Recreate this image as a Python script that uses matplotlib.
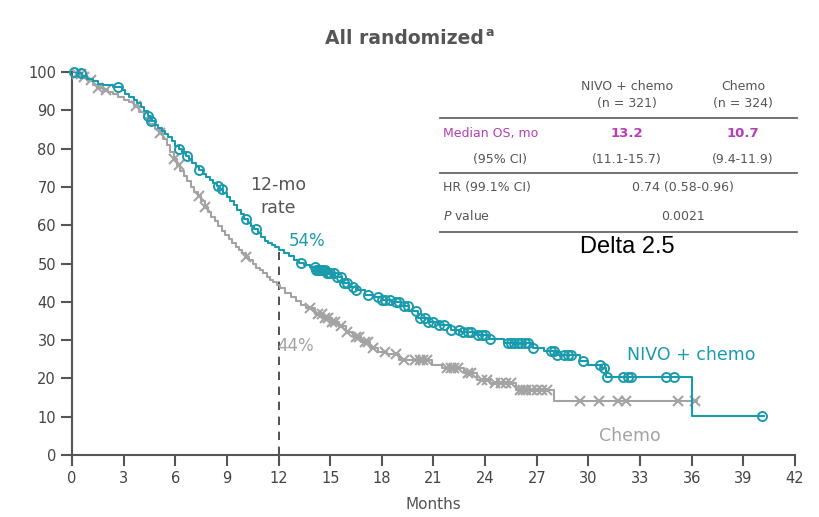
import numpy as np
import matplotlib.pyplot as plt

# Kaplan-Meier steps (months, OS %)
nivo_t = [0, 0.3, 0.6, 0.9, 1.2, 1.5, 1.8, 2.1, 2.4, 2.9, 3.1, 3.3, 3.6, 3.8, 4.0, 4.2, 4.4,
          4.6, 4.8, 5.0, 5.2, 5.4, 5.6, 5.8, 6.0, 6.2, 6.4, 6.6, 6.8, 7.0, 7.2, 7.4, 7.6, 7.8,
          8.0, 8.2, 8.4, 8.6, 8.8, 9.0, 9.2, 9.4, 9.6, 9.8, 10.0, 10.2, 10.4, 10.6, 10.8, 11.0,
          11.2, 11.4, 11.6, 11.8, 12.0, 12.3, 12.6, 12.9, 13.2, 13.5, 13.8, 14.2, 14.8, 15.3,
          15.7, 16.1, 16.5, 17.0, 17.5, 18.0, 18.6, 19.1, 19.6, 20.1, 20.7, 21.3, 22.0, 22.6,
          23.5, 24.2, 25.1, 26.8, 27.4, 28.2, 29.5, 30.0, 30.8, 31.0, 36.0, 40.2]
nivo_s = [100, 99.7, 99.0, 98.3, 97.6, 97.0, 96.7, 96.5, 96.2, 95.3, 94.3, 93.5, 92.6, 91.8,
          90.8, 89.8, 88.4, 87.2, 86.2, 85.5, 84.6, 83.8, 83.0, 82.0, 80.8, 79.9, 79.0, 78.2,
          77.2, 76.3, 75.4, 74.3, 73.4, 72.6, 71.8, 71.0, 70.3, 69.4, 68.4, 67.3, 66.2, 65.2,
          64.0, 62.8, 61.6, 60.6, 59.8, 58.9, 57.9, 56.9, 56.0, 55.3, 54.8, 54.2, 53.5, 52.8,
          51.9, 51.0, 50.2, 49.6, 49.1, 48.4, 47.6, 46.6, 45.0, 43.9, 43.0, 41.9, 41.3, 40.6,
          39.9, 38.8, 37.6, 35.8, 34.7, 34.0, 32.6, 32.0, 31.4, 30.4, 29.3, 28.0, 27.1, 26.0,
          24.5, 23.6, 22.6, 20.4, 10.2, 10.2]
nivo_cens = [0.1, 0.5, 2.7, 4.4, 4.6, 6.2, 6.7, 7.4, 8.5, 8.7, 10.1, 10.7, 13.3, 14.1, 14.2,
             14.3, 14.4, 14.5, 14.6, 14.7, 14.8, 14.9, 15.0, 15.2, 15.4, 15.6, 15.8, 16.0, 16.3,
             16.5, 17.2, 17.8, 18.0, 18.2, 18.5, 18.8, 19.0, 19.3, 19.5, 20.0, 20.2, 20.5, 20.7,
             21.0, 21.3, 21.6, 22.0, 22.5, 22.7, 23.0, 23.2, 23.6, 23.8, 24.0, 24.3, 25.3, 25.5,
             25.7, 25.9, 26.1, 26.3, 26.5, 26.8, 27.8, 28.0, 28.2, 28.6, 28.8, 29.0, 29.7, 30.7,
             30.9, 31.1, 32.0, 32.3, 32.5, 34.5, 35.0, 40.1]

chemo_t = [0, 0.3, 0.6, 0.9, 1.2, 1.5, 1.8, 2.1, 2.4, 2.7, 3.0, 3.3, 3.6, 3.9, 4.2, 4.5, 4.8,
           5.1, 5.3, 5.5, 5.7, 5.9, 6.1, 6.3, 6.5, 6.7, 6.9, 7.1, 7.3, 7.5, 7.7, 7.9, 8.1, 8.3,
           8.5, 8.7, 8.9, 9.1, 9.3, 9.5, 9.7, 9.9, 10.1, 10.3, 10.5, 10.7, 10.9, 11.1, 11.3,
           11.5, 11.7, 11.9, 12.1, 12.4, 12.7, 13.0, 13.3, 13.6, 14.1, 14.6, 15.1, 15.5, 15.9,
           16.3, 16.8, 17.3, 17.8, 18.3, 19.0, 20.9, 21.5, 22.8, 23.5, 24.3, 25.8, 28.0, 36.3]
chemo_s = [100, 99.4, 98.6, 97.8, 96.6, 95.9, 95.4, 94.9, 94.2, 93.6, 92.8, 92.1, 91.0, 89.6,
           88.1, 86.5, 85.2, 84.0, 82.6, 80.9, 79.2, 77.3, 75.6, 74.2, 72.8, 71.5, 70.1, 68.8,
           67.5, 66.2, 64.8, 63.5, 62.2, 61.0, 59.8, 58.6, 57.5, 56.3, 55.3, 54.4, 53.6, 52.7,
           51.8, 50.8, 49.8, 48.9, 48.2, 47.4, 46.6, 45.8, 45.1, 44.4, 43.6, 42.4, 41.3, 40.1,
           39.2, 38.3, 36.9, 35.8, 34.8, 33.6, 32.2, 30.8, 29.5, 28.0, 27.0, 26.3, 24.8, 23.5,
           22.7, 21.4, 19.6, 18.8, 17.0, 14.1, 14.1]
chemo_cens = [0.3, 0.5, 0.7, 1.1, 1.5, 2.0, 3.7, 5.1, 5.9, 6.2, 7.4, 7.7, 10.1, 13.8, 14.3,
              14.5, 14.7, 14.9, 15.1, 15.3, 15.6, 16.0, 16.5, 16.7, 17.0, 17.2, 17.5, 18.2,
              18.8, 19.3, 19.9, 20.2, 20.4, 20.6, 21.8, 22.0, 22.2, 22.4, 23.0, 23.2, 23.8,
              24.1, 24.6, 24.9, 25.2, 25.5, 26.0, 26.2, 26.4, 26.7, 27.0, 27.3, 27.6, 29.5,
              30.6, 31.7, 32.2, 35.2, 36.2]

TEAL = '#1a9bad'
GREY = '#a3a3a3'
DARK = '#555555'
PURPLE = '#b53db8'


def on_curve(t, s, c):
    idx = np.searchsorted(t, c, side='right') - 1
    return np.asarray(s)[idx]


fig = plt.figure(figsize=(8.2, 5.17), dpi=100)
ax = fig.add_axes([0.0878, 0.1199, 0.8817, 0.7408])

ax.step(chemo_t, chemo_s, where='post', color=GREY, lw=1.5, zorder=2)
ax.plot(chemo_cens, on_curve(chemo_t, chemo_s, chemo_cens), 'x', color=GREY, ms=7, mew=1.5,
        zorder=3, clip_on=False)
ax.step(nivo_t, nivo_s, where='post', color=TEAL, lw=1.5, zorder=4)
ax.plot(nivo_cens, on_curve(nivo_t, nivo_s, nivo_cens), 'o', mfc='none', mec=TEAL, ms=6.5,
        mew=1.4, zorder=5, clip_on=False)

ax.plot([12, 12], [0, 53], '--', color='#333333', lw=1.2, dashes=(5, 4), zorder=1)

ax.set_xlim(0, 42)
ax.set_ylim(0, 100)
ax.set_xticks(range(0, 43, 3))
ax.set_yticks(range(0, 101, 10))
for side in ['top', 'right']:
    ax.spines[side].set_visible(False)
for side in ['left', 'bottom']:
    ax.spines[side].set_color(DARK)
    ax.spines[side].set_linewidth(1.5)
ax.tick_params(colors=DARK, labelcolor='#444444', labelsize=10.5, length=8, width=1.5)
ax.set_xlabel('Months', fontsize=11, color=DARK, labelpad=8)


def fx(px):
    return px / 820


def fy(py):
    return 1 - py / 517


fig.text(fx(484), fy(38), 'All randomized', ha='right', va='center',
         fontsize=13.5, fontweight='bold', color=DARK)
fig.text(fx(486), fy(33), 'a', ha='left', va='center', fontsize=9, fontweight='bold',
         color=DARK)

ax.text(12.0, 67.5, '12-mo\nrate', ha='center', va='center', fontsize=12.5, color=DARK,
        linespacing=1.3)
ax.text(12.6, 56.0, '54%', ha='left', va='center', fontsize=12, color=TEAL)
ax.text(11.9, 28.5, '44%', ha='left', va='center', fontsize=12, color=GREY)
ax.text(36.0, 26.0, 'NIVO + chemo', ha='center', va='center', fontsize=12.5, color=TEAL)
ax.text(32.4, 5.0, 'Chemo', ha='center', va='center', fontsize=12.5, color=GREY)

# summary table
for py in [118, 173, 232]:
    fig.add_artist(plt.Line2D([fx(440), fx(797)], [fy(py), fy(py)], color='#666666', lw=1.3))

kw = dict(fontsize=9, color=DARK, va='center')
fig.text(fx(627), fy(87), 'NIVO + chemo', ha='center', **kw)
fig.text(fx(627), fy(104), '(n = 321)', ha='center', **kw)
fig.text(fx(743), fy(87), 'Chemo', ha='center', **kw)
fig.text(fx(743), fy(104), '(n = 324)', ha='center', **kw)
fig.text(fx(443), fy(133), 'Median OS, mo', ha='left', fontsize=9, color=PURPLE, va='center')
fig.text(fx(627), fy(133), '13.2', ha='center', fontsize=9.5, color=PURPLE, va='center',
         fontweight='bold')
fig.text(fx(743), fy(133), '10.7', ha='center', fontsize=9.5, color=PURPLE, va='center',
         fontweight='bold')
fig.text(fx(500), fy(160), '(95% CI)', ha='center', **kw)
fig.text(fx(627), fy(160), '(11.1-15.7)', ha='center', **kw)
fig.text(fx(743), fy(160), '(9.4-11.9)', ha='center', **kw)
fig.text(fx(443), fy(188), 'HR (99.1% CI)', ha='left', **kw)
fig.text(fx(683), fy(188), '0.74 (0.58-0.96)', ha='center', **kw)
fig.text(fx(443), fy(216), '$P$ value', ha='left', **kw)
fig.text(fx(683), fy(216), '0.0021', ha='center', **kw)
fig.text(fx(627), fy(247), 'Delta 2.5', ha='center', va='center', fontsize=17,
         color='black', family='Liberation Sans')

fig.savefig('out.png', dpi=100)
